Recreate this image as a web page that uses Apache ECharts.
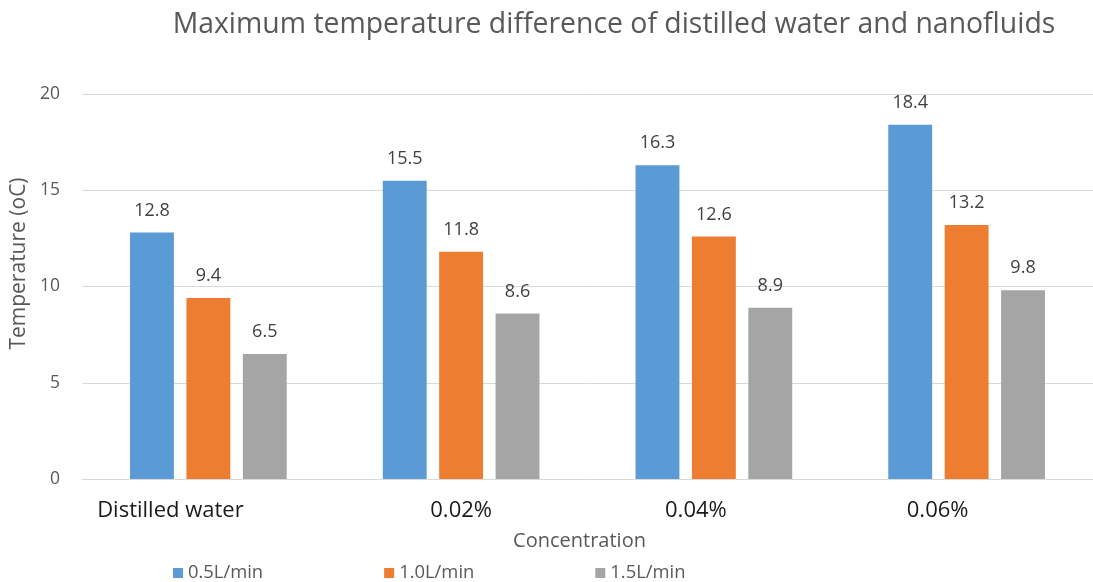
<!DOCTYPE html>
<html>
<head>
<meta charset="utf-8">
<script src="https://cdn.jsdelivr.net/npm/echarts@6/dist/echarts.min.js"></script>
<style>
  html, body { margin: 0; padding: 0; background: #fff; }
  #chart { width: 1093px; height: 582px; }
</style>
</head>
<body>
<div id="chart"></div>
<script>
// Concentration groups along the x axis
const categories = ['Distilled water', '0.02%', '0.04%', '0.06%'];

// Maximum temperature difference (oC) per flow rate
const flow05 = [12.8, 15.5, 16.3, 18.4];
const flow10 = [9.4, 11.8, 12.6, 13.2];
const flow15 = [6.5, 8.6, 8.9, 9.8];

const seriesNames = ['0.5L/min', '1.0L/min', '1.5L/min'];
const yTicks = [0, 5, 10, 15, 20];

const colors = ['#5B9BD5', '#ED7D31', '#A5A5A5'];
const font = '"Open Sans", sans-serif';

// horizontal nudge (px) of each category label under its group
const labelShift = [-38, 0, -18, -29];

function barSeries(name, data, color) {
  return {
    name: name,
    type: 'bar',
    data: data,
    barGap: '28.5%',
    barCategoryGap: '38%',
    itemStyle: { color: color },
    label: {
      show: true,
      position: 'top',
      distance: 13,
      color: '#404040',
      fontSize: 18,
      fontFamily: font
    }
  };
}

const labelRich = {};
labelShift.forEach(function (s, i) {
  labelRich['c' + i] = {
    color: '#1a1a1a',
    fontSize: 22,
    fontFamily: font,
    padding: s < 0 ? [0, -2 * s, 0, 0] : [0, 0, 0, 2 * s]
  };
});

const chart = echarts.init(document.getElementById('chart'));
chart.setOption({
  animation: false,
  color: colors,
  title: {
    text: 'Maximum temperature difference of distilled water and nanofluids',
    left: 609,
    textAlign: 'center',
    top: 6,
    textStyle: { color: '#595959', fontSize: 28.4, fontWeight: 'normal', fontFamily: font }
  },
  legend: {
    bottom: 0,
    left: 173,
    padding: 0,
    itemGap: 121,
    itemWidth: 10,
    itemHeight: 10,
    icon: 'rect',
    textStyle: { color: '#595959', fontSize: 18.4, fontFamily: font },
    data: seriesNames
  },
  grid: { left: 82, width: 1016, top: 94, bottom: 103 },
  xAxis: {
    type: 'category',
    data: categories,
    name: 'Concentration',
    nameLocation: 'middle',
    nameGap: 52,
    nameTextStyle: { color: '#595959', fontSize: 20, fontFamily: font, padding: [0, 16, 0, 0] },
    axisLine: { lineStyle: { color: '#D9D9D9' } },
    axisTick: { show: false },
    axisLabel: {
      margin: 21,
      formatter: function (v, i) { return '{c' + i + '|' + v + '}'; },
      rich: labelRich
    }
  },
  yAxis: {
    type: 'value',
    min: yTicks[0],
    max: yTicks[yTicks.length - 1],
    interval: 5,
    name: 'Temperature (oC)',
    nameLocation: 'middle',
    nameGap: 46,
    nameTextStyle: { color: '#595959', fontSize: 21, fontFamily: font, padding: [0, 0, 0, 46] },
    axisLine: { show: false },
    axisTick: { show: false },
    axisLabel: { color: '#595959', fontSize: 17.5, fontFamily: font, margin: 22 },
    splitLine: { lineStyle: { color: '#D9D9D9' } }
  },
  series: [
    barSeries(seriesNames[0], flow05, colors[0]),
    barSeries(seriesNames[1], flow10, colors[1]),
    barSeries(seriesNames[2], flow15, colors[2])
  ]
});
</script>
</body>
</html>
